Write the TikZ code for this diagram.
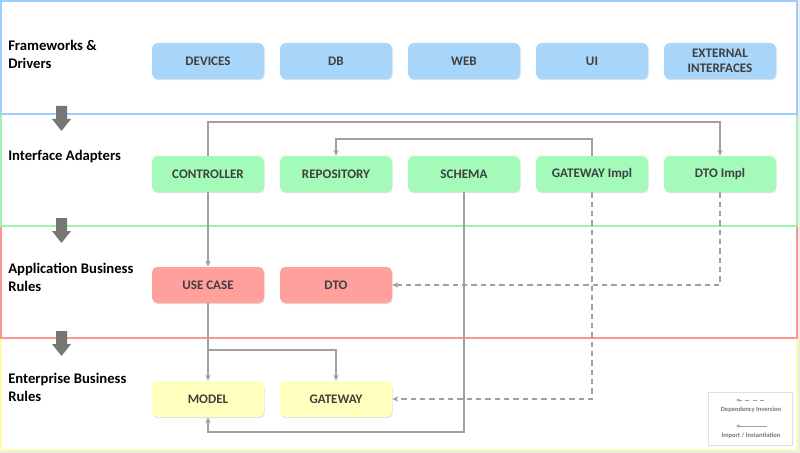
\documentclass[tikz,border=0pt]{standalone}
\usepackage{fontspec}
\setmainfont{Carlito}
\usetikzlibrary{arrows.meta,positioning,shadows}

\definecolor{fwfill}{RGB}{168,214,250}
\definecolor{iafill}{RGB}{163,250,185}
\definecolor{abfill}{RGB}{255,160,156}
\definecolor{ebfill}{RGB}{255,255,190}
\definecolor{fwline}{RGB}{160,206,252}
\definecolor{ialine}{RGB}{160,242,172}
\definecolor{abline}{RGB}{252,150,142}
\definecolor{ebline}{RGB}{255,252,170}
\definecolor{boxtext}{RGB}{64,64,64}
\definecolor{connect}{RGB}{160,160,160}
\definecolor{blockgray}{RGB}{118,118,118}

\begin{document}
\begin{tikzpicture}[x=0.75pt,y=-0.75pt,>={Stealth[length=4.5pt,width=4pt]},
        node distance=96pt,
        box/.style={rounded corners=4pt,minimum width=84pt,minimum height=27pt,
                    inner sep=1pt,align=center,text=boxtext,
                    font=\fontsize{9.8}{11}\selectfont\bfseries,
                    drop shadow={shadow xshift=0.5pt,shadow yshift=-0.9pt,opacity=0.25}},
        layer/.style={line width=1.5pt,fill=white},
        layername/.style={anchor=west,align=left,inner sep=0pt,
                    font=\fontsize{11}{13.5}\selectfont\bfseries},
        conn/.style={->,draw=connect,line width=0.9pt},
        inv/.style={conn,dash pattern=on 4pt off 3pt},
        legendtext/.style={text=blockgray,font=\fontsize{4.9}{5.5}\selectfont\bfseries}]

  \useasboundingbox (0,0) rectangle (800,453);
  \fill[gray!15] (0,0) rectangle (800,453);

  % layers, inner one first
  \draw[layer,draw=ebline] (1,338) rectangle (797,450);
  \draw[layer,draw=abline] (1,226) rectangle (797,338);
  \draw[layer,draw=ialine] (1,114) rectangle (797,226);
  \draw[layer,draw=fwline] (1,1) rectangle (797,114);

  \node[layername] (fwname) at (8,54) {Frameworks \&\\Drivers};
  \node[layername] (ianame) at (8,157) {Interface Adapters};
  \node[layername] (abname) at (8,277) {Application Business\\Rules};
  \node[layername] (ebname) at (8,387) {Enterprise Business\\Rules};

  \foreach \y in {106,218,331}
    \fill[blockgray] (56,\y) -- (67,\y) -- (67,\y+13) -- (71,\y+13)
        -- (61.5,\y+25) -- (52,\y+13) -- (56,\y+13) -- cycle;

  \node[box,fill=fwfill] (devices) at (208,61) {DEVICES};
  \node[box,fill=fwfill] (db) [right of=devices] {DB};
  \node[box,fill=fwfill] (web) [right of=db] {WEB};
  \node[box,fill=fwfill] (ui) [right of=web] {UI};
  \node[box,fill=fwfill] (extif) [right of=ui] {EXTERNAL\\INTERFACES};

  \node[box,fill=iafill] (ctrl) at (208,174) {CONTROLLER};
  \node[box,fill=iafill] (repo) [right of=ctrl] {REPOSITORY};
  \node[box,fill=iafill] (schema) [right of=repo] {SCHEMA};
  \node[box,fill=iafill] (gwimpl) [right of=schema] {GATEWAY Impl};
  \node[box,fill=iafill] (dtoimpl) [right of=gwimpl] {DTO Impl};

  \node[box,fill=abfill] (usecase) at (208,285) {USE CASE};
  \node[box,fill=abfill] (dto) [right of=usecase] {DTO};

  \node[box,fill=ebfill] (model) at (208,399) {MODEL};
  \node[box,fill=ebfill] (gw) [right of=model] {GATEWAY};

  \coordinate (busA) at (0,122);
  \coordinate (busB) at (0,139);
  \coordinate (busC) at (0,350);
  \coordinate (busD) at (0,432);

  \draw[conn] (ctrl.north) -- (ctrl.north |- busA) -| (dtoimpl.north);
  \draw[conn] (gwimpl.north) -- (gwimpl.north |- busB) -| (repo.north);
  \draw[conn] (ctrl.south) -- (usecase.north);
  \draw[conn] (usecase.south) -- (model.north);
  \draw[conn] (usecase.south |- busC) -| (gw.north);
  \draw[conn] (schema.south) -- (schema.south |- busD) -| (model.south);
  \draw[inv] (gwimpl.south) |- (gw.east);
  \draw[inv] (dtoimpl.south) |- (dto.east);

  % legend
  \node[draw=gray!25,line width=0.6pt,minimum width=63pt,minimum height=39.75pt]
      (legend) at (750,418.5) {};
  \coordinate (invfrom) at (764,400);
  \coordinate (invto) at (736,400);
  \coordinate (impfrom) at (767,426);
  \coordinate (impto) at (736,426);
  \draw[conn,line width=0.7pt,dash pattern=on 3pt off 2.5pt,>={Stealth[length=3pt,width=2.5pt]}]
      (invfrom) -- (invto);
  \draw[conn,line width=0.7pt,>={Stealth[length=3pt,width=2.5pt]}] (impfrom) -- (impto);
  \node[legendtext] (invtext) at (751,410) {Dependency Inversion};
  \node[legendtext] (imptext) at (751,436) {Import / Instantiation};

\end{tikzpicture}
\end{document}
